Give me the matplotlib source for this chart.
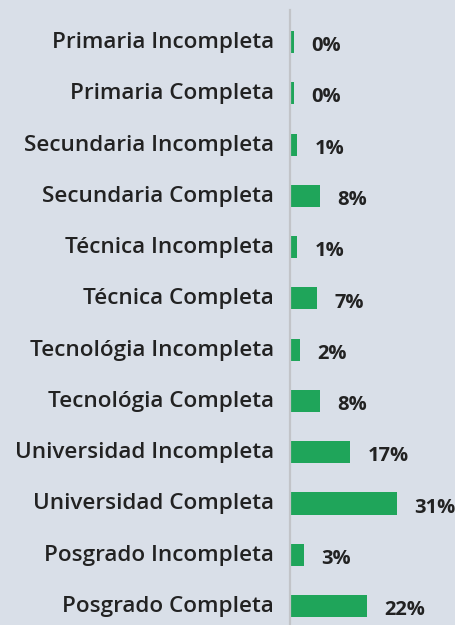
import matplotlib
matplotlib.use("Agg")
import matplotlib.pyplot as plt
import matplotlib.transforms as mtransforms

# --------------------------------------------------------------------------
# Data
# --------------------------------------------------------------------------
categories = [
    "Primaria Incompleta",
    "Primaria Completa",
    "Secundaria Incompleta",
    "Secundaria Completa",
    "Técnica Incompleta",
    "Técnica Completa",
    "Tecnológia Incompleta",
    "Tecnológia Completa",
    "Universidad Incompleta",
    "Universidad Completa",
    "Posgrado Incompleta",
    "Posgrado Completa",
]
percentages = [0, 0, 1, 8, 1, 7, 2, 8, 17, 31, 3, 22]

# --------------------------------------------------------------------------
# Style
# --------------------------------------------------------------------------
BG = "#d9dfe8"
GREEN = "#1fa55a"
TEXT = "#222222"
AXIS = "#c2c4c8"
FONT = ["Open Sans", "DejaVu Sans"]
STUB = 1.1  # small minimum bar length so 0% rows still show a mark

plt.rcParams["font.family"] = FONT

fig = plt.figure(figsize=(4.56, 6.25), dpi=100, facecolor=BG)
W, H = 456, 625
ax = fig.add_axes([290 / W, 0, (W - 290) / W, 615 / H])
ax.set_facecolor(BG)

ypos = list(range(len(categories)))
widths = [p + STUB for p in percentages]
ax.barh(ypos, widths, height=0.43, color=GREEN, left=0)

for y, w, p in zip(ypos, widths, percentages):
    ax.annotate(f"{p}%", xy=(w, y), xytext=(12.5, -3), textcoords="offset points",
                ha="left", va="center", fontsize=14.5, fontweight="bold",
                color=TEXT)

ax.set_xlim(0, (W - 290) / 3.33)
ax.set_ylim(11.37, -0.624)
ax.set_yticks(ypos)
ax.set_yticklabels(categories, fontsize=16.2, fontweight="semibold", color=TEXT)
ax.tick_params(axis="y", length=0, pad=11.5)

# nudge category labels up a touch, as in the original
shift = mtransforms.ScaledTranslation(0, 2 / 100, fig.dpi_scale_trans)
for lbl in ax.get_yticklabels():
    lbl.set_transform(lbl.get_transform() + shift)
ax.set_xticks([])

for side in ("top", "right", "bottom"):
    ax.spines[side].set_visible(False)
ax.spines["left"].set_color(AXIS)
ax.spines["left"].set_linewidth(1.6)

fig.savefig("out.png", dpi=100, facecolor=BG)
